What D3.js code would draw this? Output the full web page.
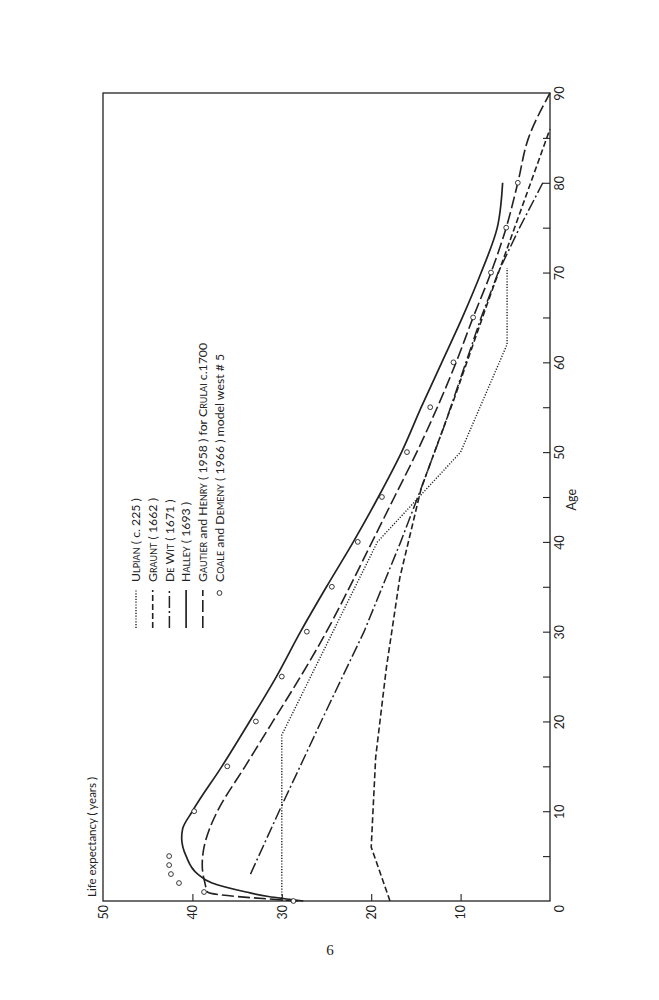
<!DOCTYPE html>
<html>
<head>
<meta charset="utf-8">
<script src="https://cdn.jsdelivr.net/npm/d3@7"></script>
<style>
  body { margin: 0; background: #fff; }
  svg text { font-family: Lato, "DejaVu Sans", sans-serif; fill: #222; }
  .sc { font-variant: small-caps; }
</style>
</head>
<body>
<div id="chart"></div>
<script>
// Life expectancy by age (age in years, e in years)
let ulpianAge = [0, 18.5, 40, 50, 62, 70.5];
let ulpianE   = [30, 30, 19.3, 10, 4.8, 4.8];

let grauntAge = [0, 6, 16, 26, 36, 46, 56, 66, 76, 86];
let grauntE   = [17.9, 20.0, 19.5, 18.3, 16.8, 14.4, 10.7, 7.2, 3.6, 0];

let dewitAge = [3, 10, 20, 30, 40, 46, 53, 60, 65, 70, 75, 80];
let dewitE   = [33.5, 30.3, 25.6, 20.8, 16.7, 14.4, 11.8, 9.4, 7.7, 5.8, 3.4, 0.8];

let halleyAge = [0, 0.5, 1, 2, 3, 5, 7, 8, 10, 15, 20, 25, 30, 35, 40, 45, 50, 55, 60, 65, 70, 75, 80];
let halleyE   = [27.6, 31.5, 34, 37.8, 39.4, 40.7, 41.2, 41.1, 40.0, 36.7, 33.6, 30.6, 27.9, 25.0, 22.0, 19.2, 16.6, 14.4, 12.1, 9.8, 7.7, 5.9, 5.3];

let gautierAge = [0, 1, 2, 4, 6, 8, 10, 15, 20, 25, 30, 35, 40, 45, 50, 55, 60, 65, 70, 75, 80, 85, 90];
let gautierE   = [28.2, 38.3, 38.6, 38.9, 38.7, 38.1, 37.2, 34.1, 31.0, 27.9, 25.0, 22.4, 19.9, 17.4, 14.9, 12.6, 10.5, 8.6, 6.6, 4.9, 3.6, 2.4, 0];

let coaleAge = [0, 1, 2, 3, 4, 5, 10, 15, 20, 25, 30, 35, 40, 45, 50, 55, 60, 65, 70, 75, 80];
let coaleE   = [28.7, 38.7, 41.5, 42.4, 42.6, 42.6, 39.8, 36.1, 32.9, 30.0, 27.2, 24.4, 21.5, 18.8, 16.0, 13.4, 10.8, 8.6, 6.6, 4.9, 3.6];

let ageTicks = [0, 10, 20, 30, 40, 50, 60, 70, 80, 90];
let ageMinorTicks = [5, 15, 25, 35, 45, 55, 65, 75, 85];
let eTicks = [10, 20, 30, 40, 50];

// legend text pieces: [text, small caps?]
let legendParts = [
  [["Ulpian", true], [" ( c. 225 )", false]],
  [["Graunt", true], [" ( 1662 )", false]],
  [["De Wit", true], [" ( 1671 )", false]],
  [["Halley", true], [" ( 1693 )", false]],
  [["Gautier", true], [" and ", false], ["Henry", true], [" ( 1958 ) for ", false], ["Crulai", true], [" c.1700", false]],
  [["Coale", true], [" and ", false], ["Demeny", true], [" ( 1966 ) model west # 5", false]]
];

let width = 659, height = 1000;
let svg = d3.select("#chart").append("svg")
    .attr("width", width)
    .attr("height", height);

// the figure is printed turned on the page: age runs up, life expectancy runs left
let x = d3.scaleLinear().domain([0, 50]).range([550, 103]);
let y = d3.scaleLinear().domain([0, 90]).range([901, 93]);

// frame
svg.append("rect")
    .attr("x", x(50)).attr("y", y(90))
    .attr("width", x(0) - x(50)).attr("height", y(0) - y(90))
    .attr("fill", "none").attr("stroke", "#222").attr("stroke-width", 1.3);

// bottom axis (life expectancy)
let bottom = svg.append("g")
    .attr("transform", `translate(0, ${y(0)})`)
    .call(d3.axisBottom(x).tickValues(eTicks).tickSizeInner(-7).tickSizeOuter(0));
bottom.select(".domain").remove();
bottom.selectAll("line").attr("stroke", "#222").attr("stroke-width", 1.1);
bottom.selectAll("text")
    .attr("transform", "rotate(-90)")
    .attr("x", -4).attr("y", 0).attr("dy", "0.35em")
    .attr("text-anchor", "end")
    .style("font-size", "12.5px");
bottom.selectAll(".tick").filter(d => d === 50).select("line").remove();

// right axis (age)
let right = svg.append("g")
    .attr("transform", `translate(${x(0)}, 0)`)
    .call(d3.axisRight(y).tickValues(ageTicks).tickSizeInner(-7).tickSizeOuter(0));
right.select(".domain").remove();
right.selectAll("line").attr("stroke", "#222").attr("stroke-width", 1.1);
right.selectAll("text")
    .attr("transform", "rotate(-90)")
    .attr("x", d => d === 0 ? -7 : 0)
    .attr("y", 14).attr("dy", null)
    .attr("text-anchor", "middle")
    .style("font-size", "12.5px");
right.selectAll(".tick").filter(d => d === 0 || d === 90).select("line").remove();

let minor = svg.append("g")
    .attr("transform", `translate(${x(0)}, 0)`)
    .call(d3.axisRight(y).tickValues(ageMinorTicks).tickSizeInner(-7).tickSizeOuter(0).tickFormat(""));
minor.select(".domain").remove();
minor.selectAll("line").attr("stroke", "#222").attr("stroke-width", 1.1);

// axis titles
svg.append("text")
    .attr("transform", `translate(572, ${y(44.7)}) rotate(-90)`)
    .attr("dy", "0.35em")
    .attr("text-anchor", "middle")
    .style("font-size", "12.5px")
    .text("Age");

svg.append("text")
    .attr("transform", `translate(92, 897) rotate(-90)`)
    .attr("dy", "0.35em")
    .attr("text-anchor", "start")
    .style("font-size", "11.5px")
    .text("Life expectancy ( years )");

// series
let series = [
  { age: ulpianAge,  e: ulpianE,  dash: "1.2,1.6",  w: 1.4, curve: d3.curveLinear },
  { age: grauntAge,  e: grauntE,  dash: "6,3",      w: 1.6, curve: d3.curveLinear },
  { age: dewitAge,   e: dewitE,   dash: "12,3,2,3", w: 1.5, curve: d3.curveLinear },
  { age: halleyAge,  e: halleyE,  dash: null,       w: 1.7, curve: d3.curveMonotoneY },
  { age: gautierAge, e: gautierE, dash: "12,4",     w: 1.6, curve: d3.curveMonotoneY }
];

series.forEach(function(s) {
  let pts = s.age.map((a, i) => [a, s.e[i]]);
  let line = d3.line()
      .x(d => x(d[1]))
      .y(d => y(d[0]))
      .curve(s.curve);
  svg.append("path")
      .datum(pts)
      .attr("d", line)
      .attr("fill", "none")
      .attr("stroke", "#222")
      .attr("stroke-width", s.w)
      .attr("stroke-dasharray", s.dash);
});

svg.append("g").selectAll("circle")
    .data(coaleAge.map((a, i) => [a, coaleE[i]]))
    .enter()
    .append("circle")
    .attr("cx", d => x(d[1]))
    .attr("cy", d => y(d[0]))
    .attr("r", 2.4)
    .attr("fill", "#fff")
    .attr("stroke", "#222")
    .attr("stroke-width", 0.9);

// legend
let legend = svg.append("g");
legendParts.forEach(function(parts, i) {
  let lx = 136 + i * 16.7;
  if (i < 5) {
    let s = series[i];
    legend.append("line")
        .attr("x1", lx).attr("x2", lx)
        .attr("y1", 628).attr("y2", 590)
        .attr("stroke", "#222")
        .attr("stroke-width", s.w)
        .attr("stroke-dasharray", s.dash);
  } else {
    legend.append("circle")
        .attr("cx", lx).attr("cy", 593).attr("r", 2.4)
        .attr("fill", "#fff").attr("stroke", "#222").attr("stroke-width", 0.9);
  }
  let t = legend.append("text")
      .attr("transform", `translate(${lx}, 582) rotate(-90)`)
      .attr("dy", "0.35em")
      .attr("text-anchor", "start")
      .style("font-size", "12.3px");
  parts.forEach(function(p) {
    t.append("tspan")
        .attr("class", p[1] ? "sc" : null)
        .attr("xml:space", "preserve")
        .text(p[0]);
  });
});

// page number
svg.append("text")
    .attr("x", 330).attr("y", 955)
    .attr("text-anchor", "middle")
    .style("font-family", "'Liberation Serif', serif")
    .style("font-size", "15px")
    .text("6");
</script>
</body>
</html>
